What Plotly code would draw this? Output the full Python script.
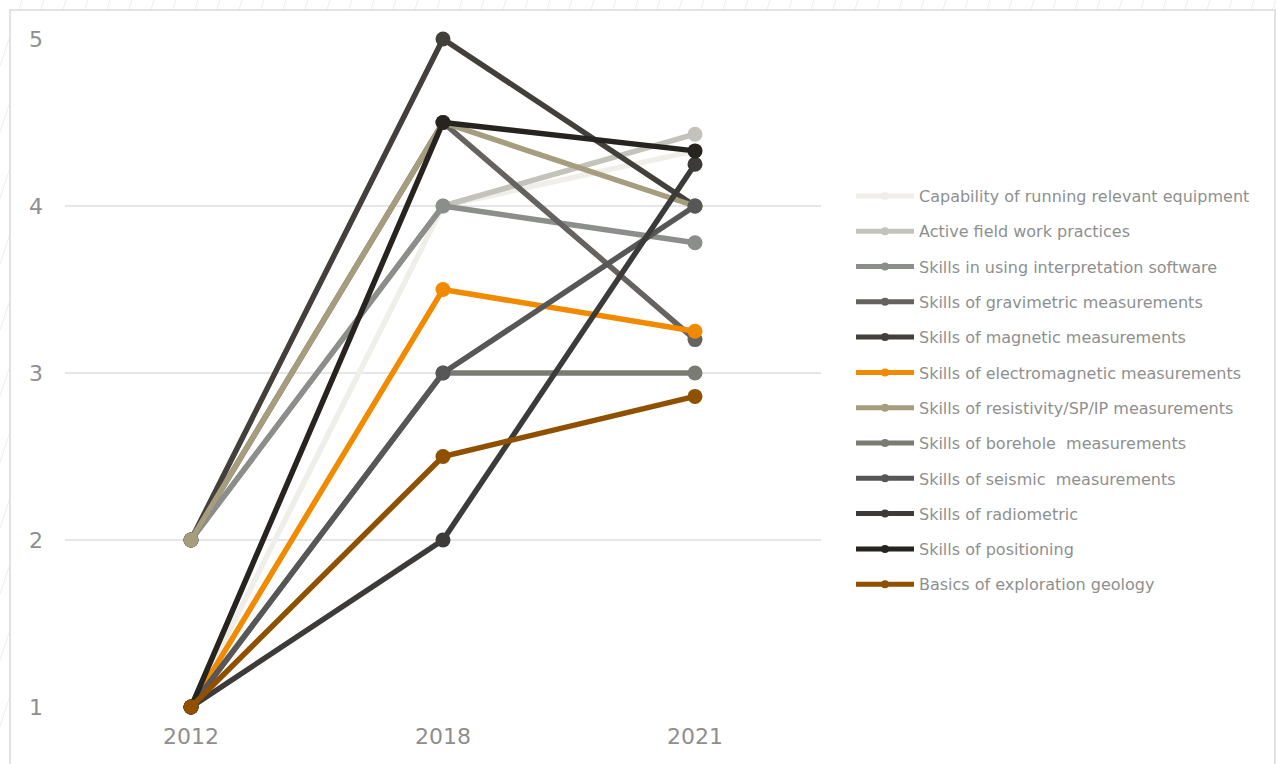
import plotly.graph_objects as go

years = ["2012", "2018", "2021"]
series_names = [
    "Capability of running relevant equipment",
    "Active field work practices",
    "Skills in using interpretation software",
    "Skills of gravimetric measurements",
    "Skills of magnetic measurements",
    "Skills of electromagnetic measurements",
    "Skills of resistivity/SP/IP measurements",
    "Skills of borehole  measurements",
    "Skills of seismic  measurements",
    "Skills of radiometric",
    "Skills of positioning",
    "Basics of exploration geology",
]
capability = [1, 4, 4.33]
active_field = [2, 4, 4.43]
interpretation = [2, 4, 3.78]
gravimetric = [2, 4.5, 3.2]
magnetic = [2, 5, 4]
electromagnetic = [1, 3.5, 3.25]
resistivity = [2, 4.5, 4]
borehole = [1, 3, 3]
seismic = [1, 3, 4]
radiometric = [1, 2, 4.25]
positioning = [1, 4.5, 4.33]
basics = [1, 2.5, 2.86]
series_values = [capability, active_field, interpretation, gravimetric, magnetic,
                 electromagnetic, resistivity, borehole, seismic, radiometric,
                 positioning, basics]
colors = ["#efeee8", "#c3c3bc", "#8b8e8a", "#656260", "#433f3a", "#f28a00",
          "#a59d7e", "#7a7b72", "#565756", "#3c3b39", "#27231f", "#8f5000"]
y_ticks = [1, 2, 3, 4, 5]

W, H = 1276, 764
L, R, T, B = 65, 821, 39, 707


def px(x):
    return (x - L) / (R - L)


def py(y):
    return (B - y) / (B - T)


fig = go.Figure()
for name, vals, c in zip(series_names, series_values, colors):
    fig.add_trace(go.Scatter(
        x=years, y=vals, mode="lines+markers", name=name,
        line=dict(color=c, width=5.5), marker=dict(color=c, size=15),
        cliponaxis=False, showlegend=False))
for i, (name, c) in enumerate(zip(series_names, colors)):
    fig.add_trace(go.Scatter(
        x=[None], y=[None], mode="lines+markers", name=name,
        line=dict(color=c, width=5), marker=dict(color=c, size=8),
        legendgroup=f"g{i}", showlegend=True))

shapes = []
# faint hatch outside the white frame
for k in range(-5, 70):
    xt = k * 22
    shapes.append(dict(type="line", xref="paper", yref="paper", layer="below",
                       x0=px(xt), y0=py(0), x1=px(xt - 300), y1=py(900),
                       line=dict(color="#ececec", width=1)))
shapes.append(dict(type="rect", xref="paper", yref="paper", layer="below",
                   x0=px(10), y0=py(10), x1=px(1275), y1=py(800),
                   fillcolor="white", line=dict(width=0)))
shapes.append(dict(type="path", xref="paper", yref="paper", layer="below",
                   path=f"M {px(10)} {py(800)} L {px(10)} {py(10)} L {px(1275)} {py(10)} L {px(1275)} {py(800)}",
                   line=dict(color="#e2e2e2", width=2)))

fig.update_layout(
    width=W, height=H,
    margin=dict(l=L, r=W - R, t=T, b=H - B),
    paper_bgcolor="white", plot_bgcolor="white",
    font=dict(family="DejaVu Sans", color="#8c8c8c"),
    shapes=shapes,
    xaxis=dict(type="category", range=[-0.5, 2.5], showgrid=False,
               showline=False, zeroline=False, ticks="",
               tickfont=dict(size=22, color="#8f8f8f"), ticklabelstandoff=14),
    yaxis=dict(range=[1, 5], tickvals=y_ticks, showgrid=True,
               gridcolor="#e6e6e6", gridwidth=2, zeroline=False,
               showline=False, ticks="",
               tickfont=dict(size=22, color="#8f8f8f"), ticklabelstandoff=21),
    legend=dict(x=px(851), y=py(179), xanchor="left", yanchor="top",
                font=dict(size=16, color="#8f8f8f"), tracegroupgap=11.5,
                itemwidth=58, bgcolor="rgba(0,0,0,0)"),
    showlegend=True,
)
fig.write_html("out.html")
